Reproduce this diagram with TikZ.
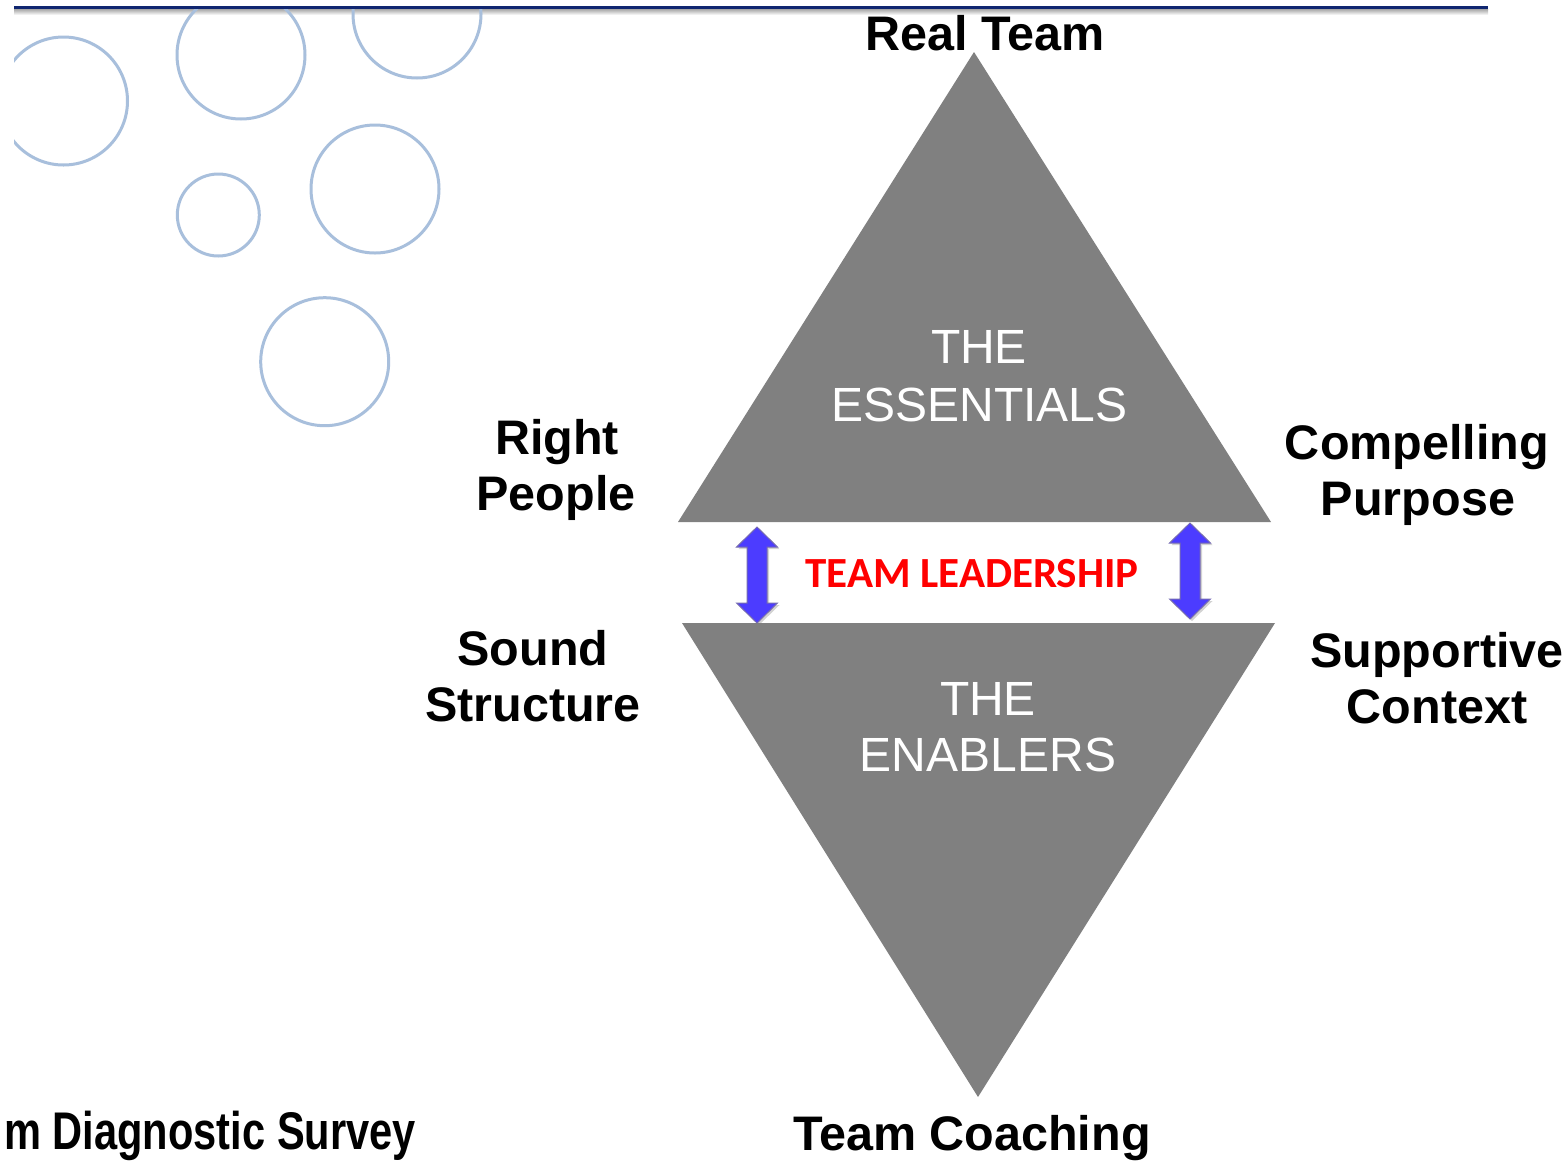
\documentclass[tikz,border=0pt]{standalone}
\usepackage{fontspec}
\setmainfont{Liberation Sans}
\newfontfamily\carlitofont{Carlito}
\usetikzlibrary{shadows}
\definecolor{navyline}{RGB}{16,38,112}
\definecolor{bubble}{RGB}{168,191,220}
\definecolor{trigray}{RGB}{128,128,128}
\definecolor{arrowblue}{RGB}{76,60,255}
\definecolor{arrowedge}{RGB}{118,108,176}
\definecolor{leadred}{RGB}{255,0,0}
\tikzset{
  lbl/.style={font=\fontsize{48.5}{56}\selectfont\bfseries, text=black, inner sep=0pt, anchor=base},
  inlbl/.style={font=\fontsize{48}{56}\selectfont, text=white, inner sep=0pt, anchor=base},
  leadlbl/.style={font=\fontsize{43}{50}\selectfont\carlitofont\bfseries, text=leadred, inner sep=0pt, anchor=base},
  footlbl/.style={font=\fontsize{53}{60}\selectfont\bfseries, text=black, inner sep=0pt, anchor=base east},
  bubblec/.style={draw=bubble, line width=3pt},
  tri/.style={fill=trigray, draw=none},
  arrowshape/.style={fill=arrowblue, draw=arrowedge, line width=1pt, line join=miter,
    drop shadow={opacity=0.35, shadow xshift=2pt, shadow yshift=-2pt}},
}
\newcommand{\vdblarrow}[3]{%
  \path[arrowshape] (#1,#2) -- ({#1+20.5},{#2+20}) -- ({#1+10},{#2+20}) -- ({#1+10},{#3-20})
    -- ({#1+20.5},{#3-20}) -- (#1,#3) -- ({#1-20.5},{#3-20}) -- ({#1-10},{#3-20})
    -- ({#1-10},{#2+20}) -- ({#1-20.5},{#2+20}) -- cycle;}
\begin{document}
\begin{tikzpicture}[x=1pt,y=-1pt]
\useasboundingbox (0,0) rectangle (1568,1160);
\fill[white] (0,0) rectangle (1568,1160);
% top rule with shadow
\shade[top color=black!35, bottom color=white] (14,9) rectangle (1488,15);
\draw[navyline, line width=3pt] (14,7.5) -- (1488,7.5);
% bubbles
\begin{scope}
  \clip (14,9.5) rectangle (1568,1160);
  \draw[bubblec] (63.5,101) circle[radius=64];
  \draw[bubblec] (241,55) circle[radius=64];
  \draw[bubblec] (417,14) circle[radius=64];
  \draw[bubblec] (218.3,215) circle[radius=41];
  \draw[bubblec] (375,189) circle[radius=64];
  \draw[bubblec] (324.7,361.7) circle[radius=64];
\end{scope}
% triangles
\path[tri] (974,52) -- (1271,522) -- (678,522) -- cycle;
\path[tri] (682,623) -- (1275,623) -- (978,1097) -- cycle;
% arrows
\vdblarrow{757}{527}{623}
\vdblarrow{1190}{523}{619}
% texts
\node[lbl] (realteam) at (985,50) {Real Team};
\node[lbl] (coaching) at (972,1150) {Team Coaching};
\node[lbl] (right) at (557,454) {Right};
\node[lbl] (people) at (556,510) {People};
\node[lbl] (sound) at (533,665) {Sound};
\node[lbl] (structure) at (533,721) {Structure};
\node[lbl] (compelling) at (1417,459) {Compelling};
\node[lbl] (purpose) at (1418,515) {Purpose};
\node[lbl] (supportive) at (1437,667) {Supportive};
\node[lbl] (context) at (1437,723) {Context};
\node[inlbl] (the1) at (979,363) {THE};
\node[inlbl] (essentials) at (979.5,421.5) {ESSENTIALS};
\node[inlbl] (the2) at (988,715.5) {THE};
\node[inlbl] (enablers) at (988,771.5) {ENABLERS};
\node[leadlbl] (leadership) at (972,587) {TEAM LEADERSHIP};
\node[footlbl] (survey) at (416,1149) {\scalebox{0.785}[1]{m Diagnostic Survey}};
\end{tikzpicture}
\end{document}
